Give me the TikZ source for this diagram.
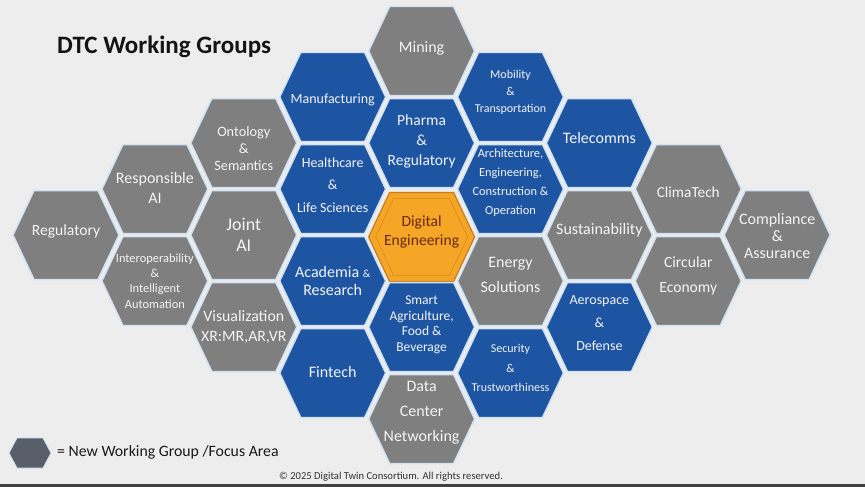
\documentclass[tikz,border=0pt]{standalone}
\usepackage{fontspec}
\setmainfont{Carlito}
\definecolor{bg}{RGB}{237,237,237}
\definecolor{hgray}{RGB}{127,127,127}
\definecolor{hblue}{RGB}{29,85,163}
\definecolor{horange}{RGB}{245,166,38}
\definecolor{horangeedge}{RGB}{200,125,30}
\definecolor{horangein}{RGB}{222,145,28}
\definecolor{hedge}{RGB}{210,228,244}
\definecolor{legendhex}{RGB}{88,95,104}
\definecolor{detext}{RGB}{105,40,15}
\definecolor{lbltext}{RGB}{244,244,244}
\newcommand\fs[2]{\fontsize{#1}{#2}\selectfont}
\begin{document}
\begin{tikzpicture}[x=1pt,y=-1pt,
  hex/.pic={\path[pic actions] (-53,0) -- (-32,-44.5) -- (32,-44.5) -- (53,0) -- (32,44.5) -- (-32,44.5) -- cycle;},
  innerhex/.pic={\path[pic actions] (-46,0) -- (-28,-38.5) -- (28,-38.5) -- (46,0) -- (28,38.5) -- (-28,38.5) -- cycle;},
  smallhex/.pic={\path[pic actions] (-21,0) -- (-13,-15) -- (13,-15) -- (21,0) -- (13,15) -- (-13,15) -- cycle;},
  grayhex/.style={fill=hgray, draw=hedge, line width=1.5pt},
  bluehex/.style={fill=hblue, draw=hedge, line width=1.5pt},
  orangehex/.style={fill=horange, draw=horangeedge, line width=1.2pt},
  lbl/.style={align=center, text=lbltext, inner sep=0pt}]
\useasboundingbox (0,0) rectangle (865,487);
\fill[bg] (0,0) rectangle (865,487);
\fill[black!75] (0,484) rectangle (865,487);

% column A
\pic[grayhex] at (66,235) {hex};
% column B
\pic[grayhex] at (154.9,189) {hex};
\pic[grayhex] at (154.9,281) {hex};
% column C
\pic[grayhex] at (243.8,143) {hex};
\pic[grayhex] at (243.8,235) {hex};
\pic[grayhex] at (243.8,327) {hex};
% column D
\pic[bluehex] at (332.7,97) {hex};
\pic[bluehex] at (332.7,189) {hex};
\pic[bluehex] at (332.7,281) {hex};
\pic[bluehex] at (332.7,373) {hex};
% column E
\pic[grayhex] at (421.6,51) {hex};
\pic[bluehex] at (421.6,143) {hex};
\pic[orangehex] at (421.6,237) {hex};
\pic[draw=horangein, line width=0.8pt] at (421.6,237) {innerhex};
\pic[bluehex] at (421.6,327) {hex};
\pic[grayhex] at (421.6,419) {hex};
% column F
\pic[bluehex] at (510.5,97) {hex};
\pic[bluehex] at (510.5,189) {hex};
\pic[grayhex] at (510.5,281) {hex};
\pic[bluehex] at (510.5,373) {hex};
% column G
\pic[bluehex] at (599.4,143) {hex};
\pic[grayhex] at (599.4,235) {hex};
\pic[bluehex] at (599.4,327) {hex};
% column H
\pic[grayhex] at (688.3,189) {hex};
\pic[grayhex] at (688.3,281) {hex};
% column I
\pic[grayhex] at (777.2,235) {hex};

\node[lbl, font=\fs{16}{19}] (mining) at (421.6,48) {Mining};
\node[lbl, font=\fs{14}{17}] (manuf) at (332.7,100) {Manufacturing};
\node[lbl, font=\fs{15.5}{20}] (pharma) at (421.6,141) {Pharma\\\&\\Regulatory};
\node[lbl, font=\fs{12}{17}] (mobility) at (510.5,92) {Mobility\\\&\\Transportation};
\node[lbl, font=\fs{14.3}{17}] (onto) at (243.8,149) {Ontology\\\&\\Semantics};
\node[lbl, font=\fs{14}{22.5}] (health) at (332.7,185) {Healthcare\\\&\\Life Sciences};
\node[lbl, font=\fs{12.4}{19}] (arch) at (510.5,182.5) {Architecture,\\Engineering,\\Construction \&\\Operation};
\node[lbl, font=\fs{16}{19}] (tele) at (599.4,138) {Telecomms};
\node[lbl, font=\fs{16}{20}] (resp) at (154.9,188) {Responsible\\AI};
\node[lbl, font=\fs{15.6}{19}] (reg) at (66,231) {Regulatory};
\node[lbl, font=\fs{18}{21}] (joint) at (243.8,234.5) {Joint\\AI};
\node[lbl, font=\fs{12.4}{15.3}] (interop) at (154.9,281) {Interoperability\\\&\\Intelligent\\Automation};
\node[lbl, font=\fs{15.8}{20}] (vis) at (243.8,327) {Visualization\\XR:MR,AR,VR};
\node[lbl, font=\fs{16}{18}] (acad) at (332.7,281) {Academia {\fs{11}{13}\&}\\Research};
\node[lbl, font=\fs{16}{19}] (fin) at (332.7,372) {Fintech};
\node[lbl, text=detext, font=\fs{15.6}{19}] (de) at (421.6,232) {Digital\\Engineering};
\node[lbl, font=\fs{13.5}{15.5}] (agri) at (421.6,325) {Smart\\Agriculture,\\Food \&\\Beverage};
\node[lbl, font=\fs{16}{25}] (dc) at (421.6,413) {Data\\Center\\Networking};
\node[lbl, font=\fs{16}{25}] (energy) at (510.5,274.5) {Energy\\Solutions};
\node[lbl, font=\fs{12}{19.5}] (sec) at (510.5,368) {Security\\\&\\Trustworthiness};
\node[lbl, font=\fs{16}{19}] (sust) at (599.4,230) {Sustainability};
\node[lbl, font=\fs{14}{23}] (aero) at (599.4,323) {Aerospace\\\&\\Defense};
\node[lbl, font=\fs{15.3}{19}] (clima) at (688.3,192) {ClimaTech};
\node[lbl, font=\fs{15.6}{25}] (circ) at (688.3,275.5) {Circular\\Economy};
\node[lbl, font=\fs{16}{17}] (comp) at (777.2,236) {Compliance\\\&\\Assurance};

\node[anchor=west, inner sep=0pt, text=black!92, font=\bfseries\fs{25}{29}] (title) at (57,47) {DTC Working Groups};

\pic[fill=legendhex, draw=hedge, line width=0.8pt] at (30,453) {smallhex};
\node[anchor=west, inner sep=0pt, text=black!90, font=\fs{15.8}{19}] (legend) at (57,452) {= New Working Group /Focus Area};
\node[inner sep=0pt, text=black!80, font=\fs{10.6}{13}] (copy) at (391,477) {\textcopyright{} 2025 Digital Twin Consortium. All rights reserved.};
\end{tikzpicture}
\end{document}
